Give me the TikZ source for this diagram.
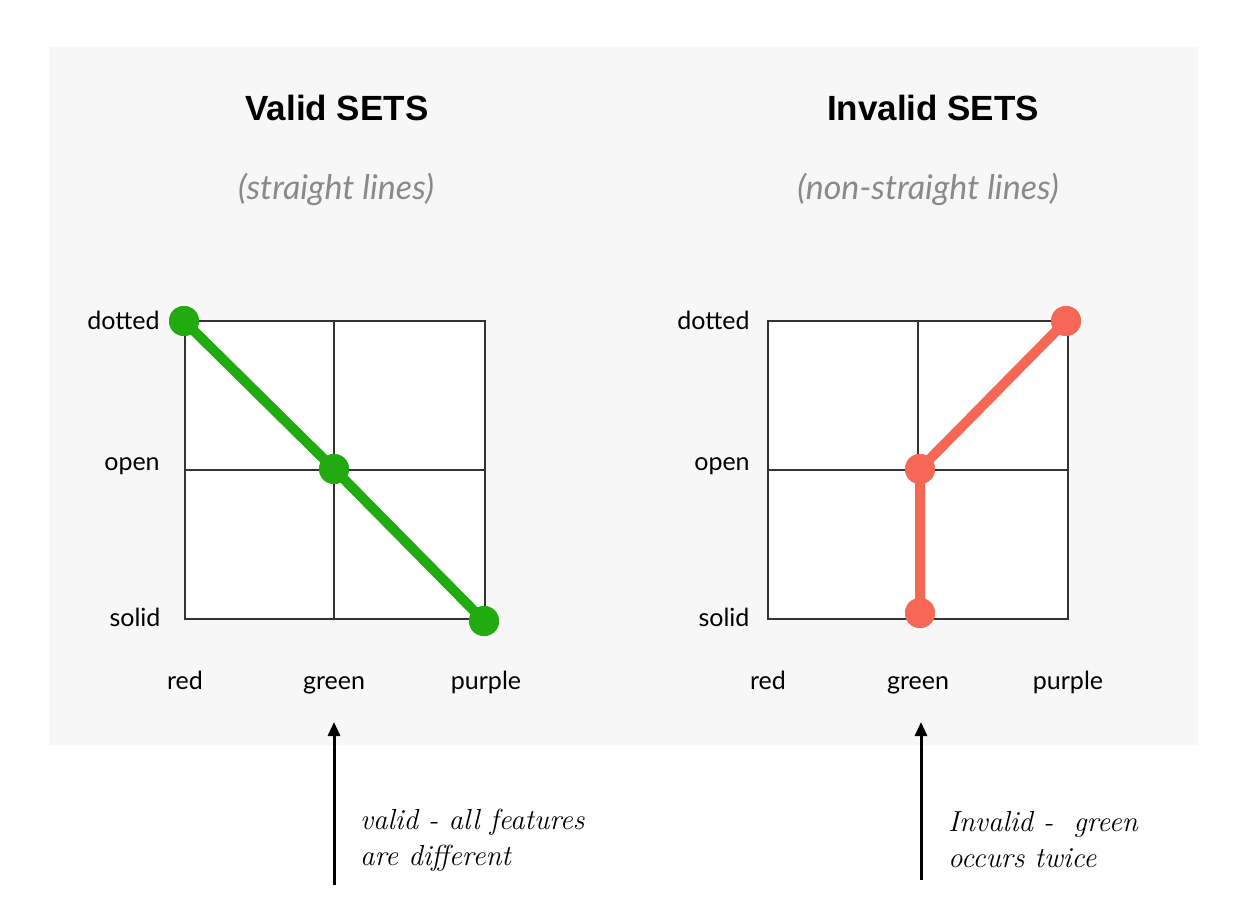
\documentclass[tikz,border=0pt]{standalone}
\usepackage{fontspec}
\setmainfont{Lato}
\newfontfamily\titlefont{Liberation Sans}
\newfontfamily\handfont{Latin Modern Roman}
\usetikzlibrary{arrows.meta}
\definecolor{panelbg}{HTML}{F7F7F7}
\definecolor{setgreen}{HTML}{22AA11}
\definecolor{setred}{HTML}{F76755}
\definecolor{gridcol}{HTML}{333333}
\definecolor{subgray}{HTML}{8A8A8A}
\tikzset{
  gridline/.style={draw=gridcol, line width=0.55pt},
  gdot/.style={circle, fill=setgreen, minimum size=15pt, inner sep=0pt},
  rdot/.style={circle, fill=setred, minimum size=15pt, inner sep=0pt},
  glink/.style={draw=setgreen, line width=5pt},
  rlink/.style={draw=setred, line width=5pt},
  rowlabel/.style={font=\fontsize{12.5}{14}\selectfont, text=black, anchor=base, inner sep=0pt},
  collabel/.style={font=\fontsize{12.5}{14}\selectfont, text=black, anchor=base},
  title/.style={font=\titlefont\bfseries\fontsize{17.5}{21}\selectfont},
  subtitle/.style={font=\itshape\fontsize{17}{20}\selectfont, text=subgray},
  note/.style={font=\handfont\itshape\fontsize{14.5}{18}\selectfont, align=left, anchor=west},
  uparrow/.style={line width=1.5pt, -{Triangle[width=6pt,length=7pt]}}
}
\begin{document}
\begin{tikzpicture}[x=0.5pt, y=-0.5pt]
\useasboundingbox (0,0) rectangle (1250,922);
\fill[white] (0,0) rectangle (1250,922);
\fill[panelbg] (49,47) rectangle (1198,745);

% titles
\node[title] (t1) at (337,108) {Valid SETS};
\node[subtitle] (s1) at (336,189) {(straight lines)};
\node[title] (t2) at (933,108) {Invalid SETS};
\node[subtitle] (s2) at (928,189) {(non-straight lines)};

% left grid
\fill[white] (185,321) rectangle (485,619);
\draw[gridline] (185,321) rectangle (485,619);
\draw[gridline] (334,321) -- (334,619);
\draw[gridline] (185,470) -- (485,470);

% right grid
\fill[white] (768,321) rectangle (1068,619);
\draw[gridline] (768,321) rectangle (1068,619);
\draw[gridline] (918,321) -- (918,619);
\draw[gridline] (768,470) -- (1068,470);

% row labels
\node[rowlabel, anchor=base east] (ld) at (160,329) {dotted};
\node[rowlabel] (lo) at (132,470) {open};
\node[rowlabel] (ls) at (135,626) {solid};
\node[rowlabel, anchor=base east] (rd) at (750,329) {dotted};
\node[rowlabel] (ro) at (722,470) {open};
\node[rowlabel] (rs) at (724,626) {solid};

% column labels
\node[collabel] (lc1) at (185,689) {red};
\node[collabel] (lc2) at (334,689) {green};
\node[collabel] (lc3) at (486,689) {purple};
\node[collabel] (rc1) at (768,689) {red};
\node[collabel] (rc2) at (918,689) {green};
\node[collabel] (rc3) at (1068,689) {purple};

% valid set
\node[gdot] (g1) at (184,321) {};
\node[gdot] (g2) at (334,469) {};
\node[gdot] (g3) at (484,621) {};
\draw[glink] (g1.center) -- (g2.center) -- (g3.center);
\node[gdot] at (g1) {};
\node[gdot] at (g2) {};
\node[gdot] at (g3) {};

% invalid set
\node[rdot] (r1) at (1066,321) {};
\node[rdot] (r2) at (920,469) {};
\node[rdot] (r3) at (920,613) {};
\draw[rlink] (r1.center) -- (r2.center) -- (r3.center);
\node[rdot] at (r1) {};
\node[rdot] at (r2) {};
\node[rdot] at (r3) {};

% arrows and notes
\coordinate (a1s) at (334,885);
\coordinate (a1e) at (334,722);
\coordinate (a2s) at (921,880);
\coordinate (a2e) at (921,722);
\draw[uparrow] (a1s) -- (a1e);
\draw[uparrow] (a2s) -- (a2e);
\node[note] (n1) at (353,840) {valid - all features\\are different};
\node[note] (n2) at (941,840) {Invalid -\ \ green\\occurs twice};
\end{tikzpicture}
\end{document}
